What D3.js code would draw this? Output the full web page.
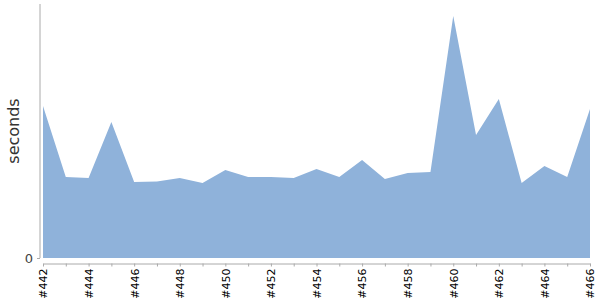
<!DOCTYPE html>
<html><head><meta charset="utf-8">
<script src="https://cdn.jsdelivr.net/npm/d3@7"></script>
<style>body{margin:0;background:#fff}</style>
</head><body><svg id="c" width="600" height="300"></svg>
<script>
const builds = ["#442","#443","#444","#445","#446","#447","#448","#449","#450","#451","#452","#453","#454","#455","#456","#457","#458","#459","#460","#461","#462","#463","#464","#465","#466"];
const seconds = [15.2,8.1,8.0,13.6,7.6,7.65,8.0,7.5,8.8,8.1,8.1,8.0,8.9,8.1,9.8,7.9,8.5,8.6,24.2,12.3,15.9,7.5,9.2,8.1,14.9];
const yTicks = [0];

const svg = d3.select("#c");
const x = d3.scalePoint().domain(builds).range([43, 590]);
const y = d3.scaleLinear().domain([0, 25.4]).range([258, 4]);

const data = builds.map((b,i)=>({b, v: seconds[i]}));
svg.append("path").datum(data)
  .attr("fill", "#8fb2da")
  .attr("d", d3.area().x(d=>x(d.b)).y0(y(0)).y1(d=>y(d.v)));

// y axis
const ya = svg.append("g").attr("transform","translate(40,0)")
  .call(d3.axisLeft(y).tickValues(yTicks).tickSize(3).tickSizeOuter(0).tickPadding(4));
ya.select(".domain").attr("stroke","#aaa").attr("d","M0,4V258");
ya.selectAll(".tick line").attr("stroke","#aaa");
ya.selectAll(".tick text").attr("fill","#444").style("font-family","'DejaVu Sans', sans-serif").style("font-size","13px").attr("dy","0.32em");

// x axis
const xa = svg.append("g").attr("transform","translate(0,263.5)")
  .call(d3.axisBottom(x).tickSize(3).tickSizeOuter(0).tickFormat((d,i)=> i%2===0 ? d : ""));
xa.select(".domain").attr("stroke","#aaa");
xa.selectAll(".tick line").attr("stroke","#aaa");
xa.selectAll(".tick text")
  .style("font-family","'DejaVu Sans', sans-serif").style("font-size","11px").attr("fill","#000")
  .attr("transform","rotate(-90)")
  .attr("text-anchor","end").attr("x",-5).attr("y",0).attr("dy","0.35em");

svg.append("text")
  .attr("transform","translate(19,131) rotate(-90)")
  .attr("text-anchor","middle")
  .style("font-family","'DejaVu Sans', sans-serif").style("font-size","16px")
  .attr("fill","#333").text("seconds");
</script></body></html>
